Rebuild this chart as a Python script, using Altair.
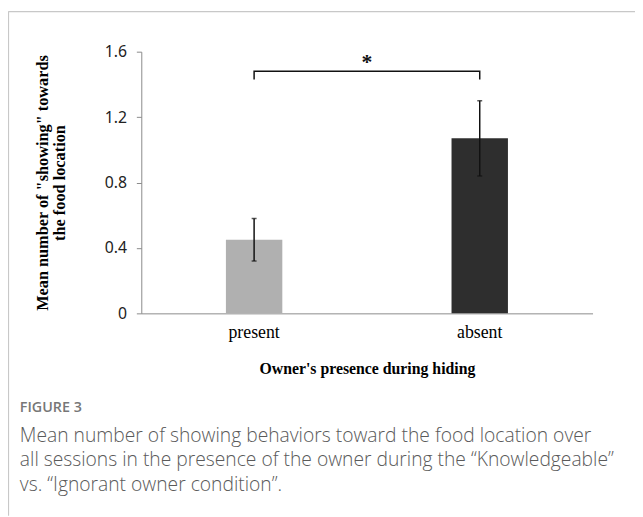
import altair as alt
import pandas as pd

conditions = ["present", "absent"]
means = [0.45, 1.07]
err_low = [0.32, 0.84]
err_high = [0.58, 1.30]
bar_colors = ["#b0b0b0", "#2e2e2e"]
y_ticks = [0, 0.4, 0.8, 1.2, 1.6]

bracket_x = ["present", "present", "absent", "absent"]
bracket_y = [1.43, 1.48, 1.48, 1.43]
bracket_order = [0, 1, 2, 3]
star_text = ["*"]
star_y = [1.535]

y_title = ['Mean number of "showing" towards', "the food location"]
x_title = "Owner's presence during hiding"
fig_label = "FIGURE 3"
caption_lines = [
    "Mean number of showing behaviors toward the food location over",
    "all sessions in the presence of the owner during the \u201cKnowledgeable\u201d",
    "vs. \u201cIgnorant owner condition\u201d.",
]

bars_df = pd.DataFrame({"cond": conditions, "mean": means, "lo": err_low,
                        "hi": err_high, "color": bar_colors})
caps_df = pd.DataFrame({"cond": conditions * 2, "v": err_low + err_high})
bracket_df = pd.DataFrame({"cond": bracket_x, "v": bracket_y, "o": bracket_order})
star_df = pd.DataFrame({"t": star_text, "v": star_y})

W, H = 457, 265
LEFT, TOP = 135, 41  # svg-relative (page margin 8 added by page)

x_enc = alt.X("cond:N", sort=conditions,
              scale=alt.Scale(domain=conditions, paddingInner=0.75, paddingOuter=0.375),
              axis=alt.Axis(labelAngle=0, ticks=False, tickSize=0, labelFont="Liberation Serif",
                            labelFontSize=18, labelColor="#000", labelPadding=10,
                            domainColor="#8a8a8a", domainWidth=1,
                            title=x_title, titleFont="Liberation Serif", titleFontSize=16,
                            titleFontWeight="bold", titleColor="#000",
                            titleX=W / 2, titleY=56, titleBaseline="middle", titleAlign="center"))
y_scale = alt.Scale(domain=[0, 1.6], nice=False)

bars = alt.Chart(bars_df).mark_bar().encode(
    x=x_enc,
    y=alt.Y("mean:Q", scale=y_scale,
            axis=alt.Axis(values=y_ticks, format=".1~f", grid=False, domainColor="#8a8a8a",
                          tickColor="#8a8a8a", tickSize=5, labelFont="Noto Sans",
                          labelFontSize=16, labelColor="#222", labelPadding=10,
                          title=y_title, titleFont="Liberation Serif", titleFontSize=16.5,
                          titleFontWeight="bold", titleColor="#000", titleLineHeight=17,
                          titleX=-100, titleY=H / 2, titleAngle=270, titleAlign="center",
                          titleBaseline="middle")),
    color=alt.Color("color:N", scale=None),
)

err = alt.Chart(bars_df).mark_rule(color="#111", strokeWidth=1.5).encode(
    x=alt.X("cond:N", sort=conditions), y=alt.Y("lo:Q"), y2="hi:Q")
caps = alt.Chart(caps_df).mark_tick(color="#111", size=5, thickness=1.5).encode(
    x=alt.X("cond:N", sort=conditions), y=alt.Y("v:Q"))

bracket = alt.Chart(bracket_df).mark_line(color="#111", strokeWidth=1.5).encode(
    x=alt.X("cond:N", sort=conditions), y=alt.Y("v:Q"), order="o:Q")

star = alt.Chart(star_df).mark_text(font="Liberation Serif", fontSize=22, fontWeight="bold",
                                    color="#111", baseline="middle").encode(
    x=alt.value(W / 2), y=alt.Y("v:Q"), text="t:N")

frame_left = alt.Chart(pd.DataFrame({"a": [0]})).mark_rule(color="#c8c8c8", strokeWidth=1.2).encode(
    x=alt.value(-LEFT + 0.5), y=alt.value(-TOP), y2=alt.value(470))
frame_top = alt.Chart(pd.DataFrame({"a": [0]})).mark_rule(color="#c8c8c8", strokeWidth=1.2).encode(
    x=alt.value(-LEFT + 0.5), x2=alt.value(510), y=alt.value(-TOP + 0.5))

fig_text = alt.Chart(pd.DataFrame({"t": [fig_label]})).mark_text(
    font="Open Sans", fontSize=14.5, fontWeight=600, color="#777777", align="left",
    baseline="middle").encode(
    x=alt.value(20 - 8 - LEFT), y=alt.value(410 - 8 - TOP), text="t:N")

cap_text = alt.Chart(pd.DataFrame({"t": ["\n".join(caption_lines)]})).mark_text(
    font="Open Sans", fontSize=19.5, fontWeight=300, color="#5a5a5a", align="left",
    baseline="middle", lineBreak="\n", lineHeight=25).encode(
    x=alt.value(20 - 8 - LEFT), y=alt.value(438 - 8 - TOP), text="t:N")

chart = alt.layer(frame_left, frame_top, bars, err, caps, bracket, star, fig_text, cap_text).properties(
    width=W, height=H,
    padding={"left": LEFT, "top": TOP, "right": 635 - LEFT - W, "bottom": 509 - TOP - H},
    autosize=alt.AutoSizeParams(type="none"),
    background="white",
).configure_view(stroke=None)

chart.save("out.html", embed_options={"renderer": "svg", "actions": False})
